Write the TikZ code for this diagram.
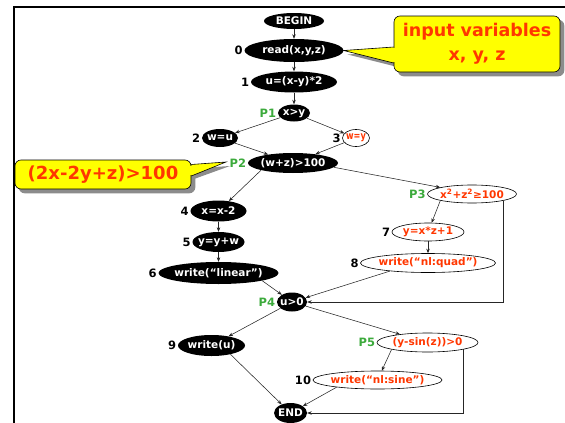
\documentclass[tikz,border=0pt]{standalone}
\usepackage{fontspec}
\setmainfont{DejaVu Sans}
\usetikzlibrary{shapes.geometric,arrows.meta,calc}
\pgfdeclarelayer{shadowlayer}
\pgfdeclarelayer{backlayer}
\pgfdeclarelayer{frontlayer}
\pgfsetlayers{shadowlayer,backlayer,main,frontlayer}
\definecolor{pgreen}{RGB}{60,170,60}
\definecolor{tred}{RGB}{255,55,0}
\definecolor{cyellow}{RGB}{255,255,0}
\definecolor{shgray}{RGB}{140,140,140}
\newcommand\tx[1]{\makebox[0pt]{#1}}
\begin{document}
\begin{tikzpicture}[x=1pt,y=-1pt,
  blk/.style={ellipse, fill=black, text=white, inner sep=0pt, font=\fontsize{10.5}{12}\selectfont\bfseries},
  wht/.style={ellipse, draw=black, line width=0.6pt, fill=white, text=tred, inner sep=0pt, font=\fontsize{10.5}{12}\selectfont\bfseries},
  num/.style={anchor=east, inner sep=1.5pt, font=\fontsize{11.5}{13}\selectfont\bfseries},
  plbl/.style={num, text=pgreen},
  arr/.style={draw=black!85, line width=0.55pt, -{Stealth[length=4.5pt,width=3.5pt]}},
  callbox/.style={rectangle, rounded corners=6pt, fill=cyellow, draw=black, line width=0.6pt, text=tred, inner sep=0pt, align=center},
  sz/.style 2 args={minimum width=#1pt, minimum height=#2pt}
]
\useasboundingbox (0,0) rectangle (565,423);
% frame
\draw[line width=2.3pt, line join=miter] (13.7,423) -- (13.7,7) -- (565,7);

% nodes
\node[blk, sz={60}{16}] (nb) at (294,21) {\tx{BEGIN}};
\node[blk, sz={99}{23}] (n0) at (294,50.5) {\tx{read(x,y,z)}};
\node[num] (l0) at (n0.west) {0};
\node[blk, sz={86}{21}] (n1) at (294,82) {\tx{u=(x-y)*2}};
\node[num] (l1) at (n1.west) {1};
\node[blk, sz={32}{17}] (p1) at (294,113) {\tx{x>y}};
\node[plbl] (lp1) at (p1.west) {P1};
\node[blk, sz={36}{18}] (n2) at (220,138) {\tx{w=u}};
\node[num] (l2) at (n2.west) {2};
\node[wht, sz={27}{17}] (n3) at (356,138) {\tx{\scalebox{0.78}[1]{w=y}}};
\node[num] (l3) at (n3.west) {3};
\node[blk, sz={90}{20}] (p2) at (293,163) {\tx{(w+z)>100}};
\node[plbl] (lp2) at (p2.west) {P2};
\node[wht, sz={89}{18}] (p3) at (472,194) {\tx{x\textsuperscript{2}+z\textsuperscript{2}≥100}};
\node[plbl] (lp3) at (p3.west) {P3};
\node[wht, sz={72}{18}] (n7) at (428,232) {\tx{y=x*z+1}};
\node[num] (l7) at (n7.west) {7};
\node[wht, sz={135}{19}] (n8) at (428,263) {\tx{write(“nl:quad”)}};
\node[num] (l8) at (n8.west) {8};
\node[blk, sz={56}{21}] (n4) at (218.5,211) {\tx{x=x-2}};
\node[num] (l4) at (n4.west) {4};
\node[blk, sz={52}{20}] (n5) at (218.5,242) {\tx{y=y+w}};
\node[num] (l5) at (n5.west) {5};
\node[blk, sz={120}{22}] (n6) at (218.5,273) {\tx{write(“linear”)}};
\node[num] (l6) at (n6.west) {6};
\node[blk, sz={30}{19}] (p4) at (292,302) {\tx{u>0}};
\node[plbl] (lp4) at (p4.west) {P4};
\node[blk, sz={67}{21}] (n9) at (211.5,345.5) {\tx{write(u)}};
\node[num] (l9) at (n9.west) {9};
\node[wht, sz={101}{19}] (p5) at (427.5,342.5) {\tx{(y-sin(z))>0}};
\node[plbl] (lp5) at (p5.west) {P5};
\node[wht, sz={129}{18}] (n10) at (377.5,380) {\tx{write(“nl:sine”)}};
\node[num] (l10) at (n10.west) {10};
\node[blk, sz={33}{20}] (ne) at (290.5,413) {\tx{END}};

% connectors
\draw[arr] (nb) -- (n0);
\draw[arr] (n0) -- (n1);
\draw[arr] (n1) -- (p1);
\draw[arr] (p1) -- (n2);
\draw[arr] (p1) -- (n3);
\draw[arr] (n2) -- (p2);
\draw[arr] (n3) -- (p2);
\draw[arr] (p2.south west) -- (n4);
\draw[arr] (p2.-6) -- (p3.north west);
\draw[arr] (p3.south west) -- (n7);
\draw[arr] (n7) -- (n8);
\draw[arr] (n8.192) -- (p4);
\draw[arr] (p3.south east) |- (p4);
\draw[arr] (n4) -- (n5);
\draw[arr] (n5) -- (n6);
\draw[arr] (n6.-10) -- (p4);
\draw[arr] (p4) -- (n9);
\draw[arr] (p4) -- (p5);
\draw[arr] (p5.south west) -- (n10);
\draw[arr] (p5.south east) |- (ne);
\draw[arr] (n10.190) -- (ne);
\draw[arr] (n9.-25) -- (ne);

% callouts
\node[callbox, sz={166}{56}, font=\fontsize{17.5}{24}\selectfont\bfseries] (cin) at (477,44) {input variables\\x, y, z};
\node[callbox, sz={176}{29}, font=\fontsize{18}{22}\selectfont\bfseries] (ccond) at (103,174.5) {(2x-2y+z)>100};

\begin{pgfonlayer}{shadowlayer}
  \fill[shgray, rounded corners=6pt] ($(cin.north west)+(4,4)$) rectangle ($(cin.south east)+(4,4)$);
  \fill[shgray] ($(cin.west)+(4,7)$) -- ($(n0.east)+(4,4)$) -- ($(cin.west)+(4,23)$) -- cycle;
  \fill[shgray, rounded corners=6pt] ($(ccond.north west)+(4,4)$) rectangle ($(ccond.south east)+(4,4)$);
  \fill[shgray] ($(ccond.east)+(0,-6)$) -- ($(lp2.west)+(2,3)$) -- ($(ccond.east)+(0,5.5)$) -- cycle;
\end{pgfonlayer}
\begin{pgfonlayer}{backlayer}
  \filldraw[fill=cyellow, draw=black, line width=0.6pt, line join=miter] ($(cin.west)+(0,3)$) -- (n0.east) -- ($(cin.west)+(0,19)$);
  \filldraw[fill=cyellow, draw=black, line width=0.6pt, line join=miter] ($(ccond.east)+(0,-10)$) -- ($(lp2.west)+(-2,-1)$) -- ($(ccond.east)+(0,1.5)$);
\end{pgfonlayer}
\begin{pgfonlayer}{frontlayer}
  \fill[cyellow] ($(cin.west)+(-1.2,4.3)$) rectangle ($(cin.west)+(1.2,17.7)$);
  \fill[cyellow] ($(ccond.east)+(-1.2,-9)$) rectangle ($(ccond.east)+(1.2,0.3)$);
\end{pgfonlayer}
\end{tikzpicture}
\end{document}
